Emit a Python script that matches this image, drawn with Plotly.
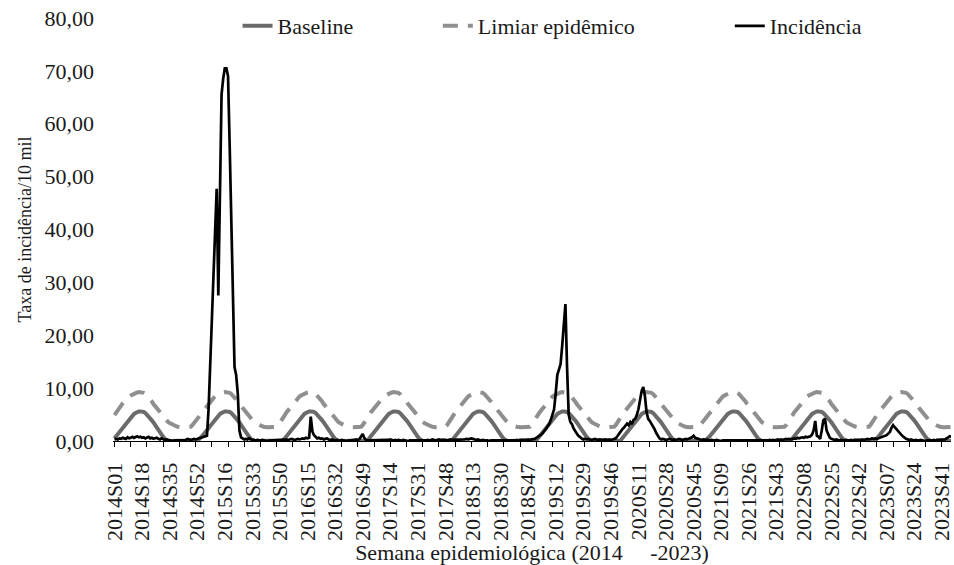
import plotly.graph_objects as go

# ---------------- data ----------------
YEARS = [2014, 2015, 2016, 2017, 2018, 2019, 2020, 2021, 2022, 2023]
WEEKS_PER_YEAR = [53, 52, 52, 52, 52, 52, 53, 52, 52, 52]

TICK_LABELS = ["2014S01", "2014S18", "2014S35", "2014S52", "2015S16", "2015S33",
               "2015S50", "2016S15", "2016S32", "2016S49", "2017S14", "2017S31",
               "2017S48", "2018S13", "2018S30", "2018S47", "2019S12", "2019S29",
               "2019S46", "2020S11", "2020S28", "2020S45", "2021S09", "2021S26",
               "2021S43", "2022S08", "2022S25", "2022S42", "2023S07", "2023S24",
               "2023S41"]

# seasonal baseline (per epidemiological week 1..53)
BASELINE_PROFILE = [
    0.5, 0.9, 1.3, 1.7, 2.1, 2.5, 2.9, 3.3, 3.7, 4.1,
    4.5, 4.8, 5.1, 5.3, 5.5, 5.6, 5.6, 5.6, 5.5, 5.3,
    5.0, 4.7, 4.3, 3.9, 3.5, 3.0, 2.6, 2.1, 1.7, 1.2,
    0.8, 0.4, 0.1, 0.0, 0.0, 0.0, 0.0, 0.0, 0.0, 0.0,
    0.0, 0.0, 0.0, 0.0, 0.0, 0.0, 0.0, 0.0, 0.0, 0.0,
    0.0, 0.1, 0.3]

# epidemic threshold (per epidemiological week 1..53)
THRESHOLD_PROFILE = [
    4.9, 5.4, 5.8, 6.2, 6.7, 7.1, 7.4, 7.8, 8.1, 8.4,
    8.6, 8.8, 9.0, 9.1, 9.2, 9.25, 9.25, 9.2, 9.1, 8.9,
    8.6, 8.3, 7.9, 7.5, 7.0, 6.6, 6.1, 5.7, 5.3, 4.9,
    4.5, 4.2, 3.9, 3.6, 3.4, 3.2, 3.0, 2.9, 2.8, 2.7,
    2.6, 2.6, 2.6, 2.6, 2.6, 2.6, 2.6, 2.7, 3.0, 3.4,
    3.8, 4.3, 4.6]

INC_2014 = [0.3, 0.4, 0.3, 0.5, 0.4, 0.6, 0.5, 0.4, 0.7, 0.5,
            0.6, 0.8, 0.6, 0.7, 0.9, 0.7, 0.8, 0.6, 0.7, 0.5,
            0.6, 0.8, 0.5, 0.6, 0.4, 0.5, 0.6, 0.4, 0.3, 0.5,
            0.3, 0.2, 0.3, 0.2, 0.1, 0.1, 0.0, 0.1, 0.1, 0.0,
            0.1, 0.1, 0.0, 0.1, 0.2, 0.4, 0.3, 0.2, 0.3, 0.4,
            0.3, 0.4, 0.5]
INC_2015 = [0.5, 0.6, 0.7, 0.9, 1.0, 6.0, 15.0, 24.0, 33.0, 41.0,
            47.7, 27.5, 50.0, 65.5, 68.5, 70.5, 70.5, 69.0, 56.0, 42.0,
            28.0, 14.0, 12.5, 9.0, 2.0, 0.7, 0.5, 0.3, 0.4, 0.3,
            0.5, 0.3, 0.2, 0.2, 0.1, 0.2, 0.1, 0.1, 0.2, 0.1,
            0.1, 0.0, 0.1, 0.1, 0.2, 0.1, 0.1, 0.2, 0.1, 0.2,
            0.2, 0.3]
INC_2016 = [0.2, 0.3, 0.2, 0.3, 0.4, 0.3, 0.2, 0.3, 0.4, 0.3,
            0.4, 0.5, 0.4, 0.6, 0.5, 0.6, 4.6, 1.8, 1.1, 0.8,
            0.5, 0.6, 0.4, 0.5, 0.3, 0.4, 0.5, 0.3, 0.2, 0.3,
            0.2, 0.1, 0.2, 0.1, 0.1, 0.2, 0.1, 0.1, 0.0, 0.1,
            0.1, 0.2, 0.1, 0.2, 0.3, 0.2, 0.4, 0.9, 1.3, 0.6,
            0.2, 0.1]
INC_2017 = [0.1, 0.2, 0.1, 0.1, 0.2, 0.1, 0.2, 0.2, 0.1, 0.2,
            0.2, 0.1, 0.2, 0.3, 0.2, 0.1, 0.2, 0.1, 0.2, 0.1,
            0.1, 0.2, 0.1, 0.1, 0.0, 0.1, 0.1, 0.0, 0.1, 0.1,
            0.0, 0.1, 0.1, 0.0, 0.1, 0.1, 0.2, 0.1, 0.2, 0.3,
            0.2, 0.1, 0.2, 0.3, 0.2, 0.2, 0.3, 0.2, 0.1, 0.2,
            0.3, 0.2]
INC_2018 = [0.2, 0.3, 0.2, 0.3, 0.2, 0.3, 0.2, 0.3, 0.4, 0.3,
            0.4, 0.5, 0.4, 0.3, 0.2, 0.3, 0.2, 0.1, 0.2, 0.1,
            0.1, 0.1, 0.0, 0.1, 0.1, 0.0, 0.1, 0.1, 0.0, 0.1,
            0.1, 0.0, 0.1, 0.0, 0.1, 0.1, 0.0, 0.1, 0.1, 0.2,
            0.1, 0.2, 0.2, 0.1, 0.2, 0.2, 0.3, 0.2, 0.3, 0.3,
            0.4, 0.6]
INC_2019 = [0.8, 0.9, 1.2, 1.5, 1.8, 2.3, 2.8, 3.2, 4.0, 4.8,
            6.0, 9.0, 12.5, 13.5, 14.5, 18.0, 22.0, 25.9, 14.0, 5.0,
            3.6, 3.2, 2.4, 1.8, 1.4, 1.0, 0.7, 0.5, 0.3, 0.4,
            0.3, 0.4, 0.3, 0.2, 0.3, 0.4, 0.3, 0.2, 0.3, 0.2,
            0.2, 0.3, 0.2, 0.2, 0.3, 0.2, 0.3, 0.4, 0.5, 0.9,
            1.4, 1.8]
INC_2020 = [2.2, 2.5, 2.9, 3.3, 3.0, 3.6, 3.2, 4.0, 4.2, 4.9,
            6.0, 7.8, 9.5, 10.2, 8.5, 5.5, 4.2, 3.8, 3.3, 2.6,
            2.2, 1.5, 0.9, 0.5, 0.3, 0.4, 0.3, 0.2, 0.3, 0.4,
            0.3, 0.2, 0.3, 0.2, 0.3, 0.4, 0.3, 0.2, 0.3, 0.4,
            0.3, 0.4, 0.5, 0.7, 1.0, 0.6, 0.5, 0.4, 0.3, 0.2,
            0.3, 0.2, 0.2]
INC_2021 = [0.2, 0.1, 0.2, 0.1, 0.1, 0.2, 0.1, 0.1, 0.0, 0.1,
            0.1, 0.0, 0.1, 0.1, 0.0, 0.1, 0.0, 0.1, 0.1, 0.0,
            0.1, 0.0, 0.0, 0.1, 0.0, 0.1, 0.0, 0.0, 0.1, 0.0,
            0.0, 0.1, 0.0, 0.1, 0.1, 0.0, 0.1, 0.1, 0.2, 0.1,
            0.2, 0.1, 0.2, 0.3, 0.2, 0.3, 0.2, 0.3, 0.4, 0.3,
            0.4, 0.3]
INC_2022 = [0.4, 0.5, 0.4, 0.6, 0.5, 0.6, 0.7, 0.6, 0.8, 0.7,
            0.8, 0.9, 1.2, 2.0, 3.8, 1.0, 0.8, 0.4, 2.0, 3.9,
            4.25, 2.0, 1.3, 0.6, 0.4, 0.3, 0.2, 0.3, 0.2, 0.1,
            0.2, 0.1, 0.1, 0.2, 0.1, 0.1, 0.2, 0.1, 0.2, 0.2,
            0.1, 0.2, 0.2, 0.3, 0.2, 0.3, 0.4, 0.3, 0.4, 0.5,
            0.4, 0.5]
INC_2023 = [0.4, 0.5, 0.6, 0.7, 0.8, 0.9, 1.1, 1.4, 1.7, 2.5,
            3.0, 2.6, 2.2, 1.8, 1.5, 1.2, 0.9, 0.6, 0.4, 0.3,
            0.2, 0.3, 0.2, 0.1, 0.2, 0.1, 0.1, 0.2, 0.1, 0.1,
            0.0, 0.1, 0.1, 0.0, 0.1, 0.2, 0.1, 0.2, 0.2, 0.3,
            0.2, 0.3, 0.3, 0.5, 0.7, 0.9, 0.8, 0.7, 0.6, 0.5,
            0.5, 0.4]

INCIDENCE_BY_YEAR = [INC_2014, INC_2015, INC_2016, INC_2017, INC_2018,
                     INC_2019, INC_2020, INC_2021, INC_2022, INC_2023]

# ---------------- assemble ----------------
week_labels = []
baseline = []
threshold = []
incidence = []
for year, nweeks, inc in zip(YEARS, WEEKS_PER_YEAR, INCIDENCE_BY_YEAR):
    for w in range(1, nweeks + 1):
        week_labels.append(f"{year}S{w:02d}")
        baseline.append(BASELINE_PROFILE[w - 1])
        threshold.append(THRESHOLD_PROFILE[w - 1])
        incidence.append(inc[w - 1] if w - 1 < len(inc) else None)

x_idx = list(range(len(week_labels)))
tick_positions = [week_labels.index(t) for t in TICK_LABELS]

FONT = "Liberation Serif, Times New Roman, serif"
TXT = "#1a1a1a"

fig = go.Figure()
fig.add_trace(go.Scatter(
    x=x_idx, y=baseline, mode="lines", name="Baseline",
    line=dict(color="#6b6b6b", width=4), legend="legend"))
fig.add_trace(go.Scatter(
    x=x_idx, y=threshold, mode="lines", name="Limiar epidêmico",
    line=dict(color="#8f8f8f", width=4, dash="15px,10px"), legend="legend2"))
fig.add_trace(go.Scatter(
    x=x_idx, y=incidence, mode="lines", name="Incidência",
    line=dict(color="#000000", width=2.7), legend="legend3"))

L, R, T, B = 113, 0, 18, 124
W, H = 954, 565
pw = W - L - R
ph = H - T - B


def lx(px):
    return (px - L) / pw


legend_y = (H - B - 28) / ph + 2.0 / ph
leg_common = dict(orientation="h", yanchor="middle", y=legend_y, xanchor="left",
                  font=dict(family=FONT, size=22, color=TXT),
                  bgcolor="rgba(0,0,0,0)", borderwidth=0)

fig.update_layout(
    width=W, height=H,
    margin=dict(l=L, r=R, t=T, b=B),
    paper_bgcolor="white", plot_bgcolor="white",
    separators=",.",
    font=dict(family=FONT, size=22, color=TXT),
    legend=dict(x=lx(279 - 41), **leg_common),
    legend2=dict(x=lx(480 - 41), **leg_common),
    legend3=dict(x=lx(773 - 41), **leg_common),
    showlegend=True,
)

fig.update_xaxes(
    range=[-0.92, 515.7],
    showgrid=False, zeroline=False,
    showline=True, linecolor="#000000", linewidth=1,
    tickmode="array", tickvals=tick_positions, ticktext=TICK_LABELS,
    tickangle=-90, ticks="", ticklabelstandoff=12,
    ticklabeloverflow="allow",
    tickfont=dict(family=FONT, size=22, color=TXT),
    minor=dict(tickmode="linear", tick0=0, dtick=10, ticks="outside",
               ticklen=5, tickwidth=1, tickcolor="#000000", showgrid=False),
    title=dict(text="Semana epidemiológica (2014" + "\u00a0" * 5 + "-2023)",
               font=dict(family=FONT, size=22, color=TXT), standoff=4),
)

fig.update_yaxes(
    range=[0, 80],
    tickmode="array", tickvals=[0, 10, 20, 30, 40, 50, 60, 70, 80],
    tickformat=".2f",
    showgrid=False, zeroline=False, showline=False, ticks="",
    ticklabelstandoff=18,
    tickfont=dict(family=FONT, size=22, color=TXT),
    title=dict(text="Taxa de incidência/10 mil",
               font=dict(family=FONT, size=18, color=TXT), standoff=8),
)

fig.write_html("out.html",
               config={"displayModeBar": False},
               post_script="document.body.style.margin='0px';"
                           "document.body.style.overflow='hidden';")
